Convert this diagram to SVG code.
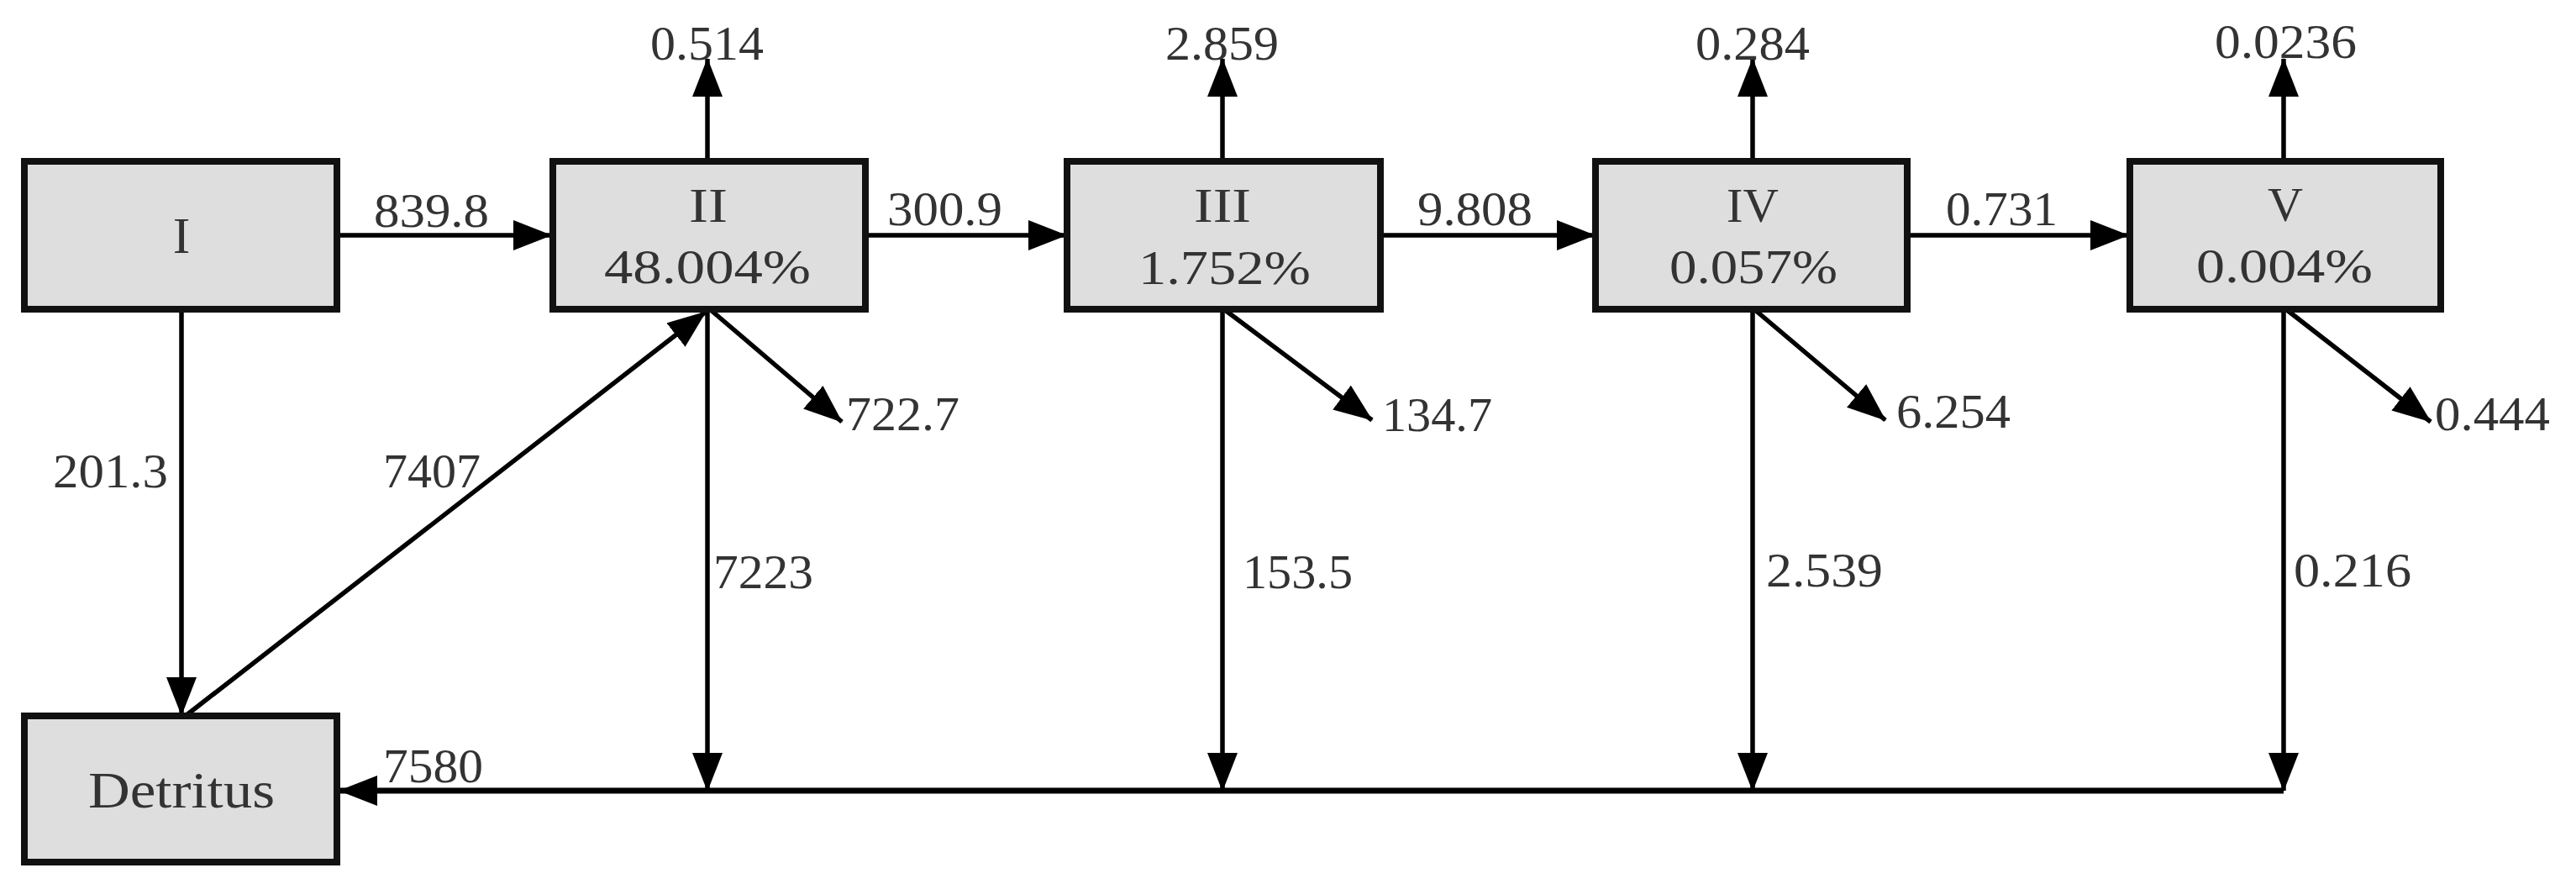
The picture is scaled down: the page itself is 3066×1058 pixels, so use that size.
<svg xmlns="http://www.w3.org/2000/svg" width="3066" height="1058" viewBox="0 0 3066 1058">
<style>
  .box { fill: #dedede; stroke: #111; stroke-width: 8; }
  .t { font-family: "Liberation Serif", "Times New Roman", serif; font-size: 58px; fill: #333; }
  .c { text-anchor: middle; }
  .ln { stroke: #000; stroke-width: 5.5; fill: none; }
  .arr { marker-end: url(#ah); }
</style>
<defs>
  <marker id="ah" markerUnits="userSpaceOnUse" markerWidth="46" markerHeight="36" refX="45" refY="18" orient="auto">
    <path d="M0,0 L46,18 L0,36 z" fill="#000"/>
  </marker>
</defs>
<rect width="3066" height="1058" fill="#fff"/>

<g id="connectors">
  <line class="ln arr" x1="401" y1="280" x2="656" y2="280"/>
  <line class="ln arr" x1="1030" y1="280" x2="1269" y2="280"/>
  <line class="ln arr" x1="1643" y1="280" x2="1898" y2="280"/>
  <line class="ln arr" x1="2270" y1="280" x2="2533" y2="280"/>
  <line class="ln arr" x1="842" y1="192" x2="842" y2="70"/>
  <line class="ln arr" x1="1455" y1="192" x2="1455" y2="70"/>
  <line class="ln arr" x1="2086" y1="192" x2="2086" y2="70"/>
  <line class="ln arr" x1="2718" y1="192" x2="2718" y2="70"/>
  <line class="ln arr" x1="846" y1="369" x2="1002" y2="502"/>
  <line class="ln arr" x1="1458" y1="369" x2="1633" y2="500"/>
  <line class="ln arr" x1="2089" y1="369" x2="2244" y2="500"/>
  <line class="ln arr" x1="2722" y1="369" x2="2893" y2="502"/>
  <line class="ln arr" x1="842" y1="368" x2="842" y2="941"/>
  <line class="ln arr" x1="1455" y1="368" x2="1455" y2="941"/>
  <line class="ln arr" x1="2086" y1="368" x2="2086" y2="941"/>
  <line class="ln arr" x1="2718" y1="368" x2="2718" y2="941"/>
  <line class="ln arr" x1="2718" y1="941" x2="404" y2="941" style="stroke-width:7"/>
  <line class="ln arr" x1="216" y1="368" x2="216" y2="851"/>
  <line class="ln arr" x1="222" y1="851" x2="840" y2="371"/>
</g>

<g id="node-I">
  <rect class="box" x="29" y="192" width="372" height="176"/>
  <text class="t c" x="216" y="301" style="font-size:62px">I</text>
</g>
<g id="node-II">
  <rect class="box" x="658" y="192" width="372" height="176"/>
  <text class="t" x="820" y="264" textLength="46" lengthAdjust="spacingAndGlyphs">II</text>
  <text class="t" x="719" y="337" textLength="246" lengthAdjust="spacingAndGlyphs">48.004%</text>
</g>
<g id="node-III">
  <rect class="box" x="1270" y="192" width="373" height="176"/>
  <text class="t" x="1421" y="264" textLength="68" lengthAdjust="spacingAndGlyphs">III</text>
  <text class="t" x="1355" y="338" textLength="205" lengthAdjust="spacingAndGlyphs">1.752%</text>
</g>
<g id="node-IV">
  <rect class="box" x="1899" y="192" width="371" height="176"/>
  <text class="t" x="2055" y="264" textLength="62" lengthAdjust="spacingAndGlyphs">IV</text>
  <text class="t" x="1987" y="337" textLength="200" lengthAdjust="spacingAndGlyphs">0.057%</text>
</g>
<g id="node-V">
  <rect class="box" x="2535" y="192" width="370" height="176"/>
  <text class="t" x="2699" y="263" textLength="42" lengthAdjust="spacingAndGlyphs">V</text>
  <text class="t" x="2614" y="336" textLength="210" lengthAdjust="spacingAndGlyphs">0.004%</text>
</g>
<g id="node-Detritus">
  <rect class="box" x="29" y="852" width="372" height="174"/>
  <text class="t" x="105" y="961" style="font-size:62px" textLength="222" lengthAdjust="spacingAndGlyphs">Detritus</text>
</g>

<g id="labels">
  <text class="t" x="774" y="71" textLength="135" lengthAdjust="spacingAndGlyphs">0.514</text>
  <text class="t" x="1387" y="71" textLength="135" lengthAdjust="spacingAndGlyphs">2.859</text>
  <text class="t" x="2018" y="71" textLength="136" lengthAdjust="spacingAndGlyphs">0.284</text>
  <text class="t" x="2636" y="69" textLength="169" lengthAdjust="spacingAndGlyphs">0.0236</text>
  <text class="t" x="445" y="270" textLength="137" lengthAdjust="spacingAndGlyphs">839.8</text>
  <text class="t" x="1056" y="268" textLength="137" lengthAdjust="spacingAndGlyphs">300.9</text>
  <text class="t" x="1687" y="268" textLength="137" lengthAdjust="spacingAndGlyphs">9.808</text>
  <text class="t" x="2316" y="268" textLength="133" lengthAdjust="spacingAndGlyphs">0.731</text>
  <text class="t" x="1007" y="512" textLength="135" lengthAdjust="spacingAndGlyphs">722.7</text>
  <text class="t" x="1645" y="513" textLength="131" lengthAdjust="spacingAndGlyphs">134.7</text>
  <text class="t" x="2257" y="509" textLength="136" lengthAdjust="spacingAndGlyphs">6.254</text>
  <text class="t" x="2898" y="512" textLength="137" lengthAdjust="spacingAndGlyphs">0.444</text>
  <text class="t" x="63" y="580" textLength="137" lengthAdjust="spacingAndGlyphs">201.3</text>
  <text class="t" x="456" y="580" textLength="116" lengthAdjust="spacingAndGlyphs">7407</text>
  <text class="t" x="849" y="700" textLength="119" lengthAdjust="spacingAndGlyphs">7223</text>
  <text class="t" x="1479" y="700" textLength="131" lengthAdjust="spacingAndGlyphs">153.5</text>
  <text class="t" x="2102" y="698" textLength="139" lengthAdjust="spacingAndGlyphs">2.539</text>
  <text class="t" x="2730" y="698" textLength="140" lengthAdjust="spacingAndGlyphs">0.216</text>
  <text class="t" x="456" y="931" textLength="119" lengthAdjust="spacingAndGlyphs">7580</text>
</g>
</svg>
